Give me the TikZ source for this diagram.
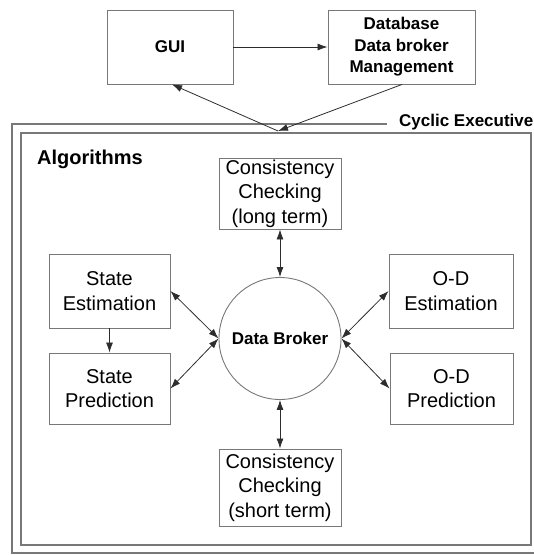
\documentclass[tikz,border=0pt]{standalone}
\usepackage{fontspec}
\setmainfont{Liberation Sans}
\usetikzlibrary{arrows.meta}
\definecolor{boxgray}{RGB}{120,120,120}
\definecolor{linegray}{RGB}{45,45,45}
\tikzset{
  algbox/.style={draw=boxgray, line width=0.9pt, align=center, inner sep=0pt,
    font=\fontsize{20}{24.5}\selectfont},
  topbox/.style={draw=boxgray, line width=0.9pt, align=center, inner sep=0pt,
    font=\fontsize{17}{21.5}\selectfont\bfseries},
  conn/.style={draw=linegray, line width=0.8pt, -{Latex[length=10pt,width=7pt]}},
  biconn/.style={draw=linegray, line width=0.8pt, {Latex[length=10pt,width=7pt]}-{Latex[length=10pt,width=7pt]}},
  frame/.style={draw=boxgray, line width=1.1pt}
}
\begin{document}
\begin{tikzpicture}[x=1pt,y=-1pt]
\useasboundingbox (0,0) rectangle (534,555);
% top boxes
\node[topbox, minimum width=126pt, minimum height=74pt] (gui) at (170,47) {GUI};
\node[topbox, minimum width=147pt, minimum height=74pt] (dbm) at (401.5,47) {Database\\Data broker\\Management};
\draw[conn] (gui.east) -- (dbm.west);
% cyclic executive frame
\draw[frame] (387,124) -- (12,124) -- (12,553) -- (545,553);
\node[anchor=west, inner sep=0pt, font=\fontsize{17}{20}\selectfont\bfseries] (cyc) at (399,122) {Cyclic Executive};
% algorithms frame
\draw[frame, line width=1.3pt] (21,133) rectangle (531,545);
\node[anchor=west, inner sep=0pt, font=\fontsize{20}{24}\selectfont\bfseries] (alg) at (37,159) {Algorithms};
\coordinate (m) at (278,131);
\draw[conn] (m) -- (gui.south -| 172,0);
\draw[conn] (dbm.south -| 402,0) -- (m);
% algorithm boxes
\node[algbox, minimum width=122pt, minimum height=71pt] (lt) at (280,193.5) {Consistency\\Checking\\(long term)};
\node[algbox, minimum width=122pt, minimum height=77pt] (st) at (280,487.5) {Consistency\\Checking\\(short term)};
\node[algbox, minimum width=121pt, minimum height=74pt] (se) at (109.5,291) {State\\Estimation};
\node[algbox, minimum width=121pt, minimum height=71pt] (sp) at (109.5,388.5) {State\\Prediction};
\node[algbox, minimum width=124pt, minimum height=74pt] (oe) at (451,291) {O-D\\Estimation};
\node[algbox, minimum width=123pt, minimum height=71pt] (op) at (451.5,388.5) {O-D\\Prediction};
\node[circle, draw=boxgray, line width=0.9pt, minimum size=122pt, inner sep=0pt,
  font=\fontsize{17}{20}\selectfont\bfseries] (db) at (280,338.5) {Data Broker};
% connectors
\draw[biconn] (lt.south) -- (db.north);
\draw[biconn] (db.south) -- (st.north);
\draw[biconn] (se.east) -- (db.west);
\draw[biconn] (sp.east) -- (db.west);
\draw[biconn] (oe.west) -- (db.east);
\draw[biconn] (op.west) -- (db.east);
\draw[conn] (se.south) -- (sp.north);
\end{tikzpicture}
\end{document}
